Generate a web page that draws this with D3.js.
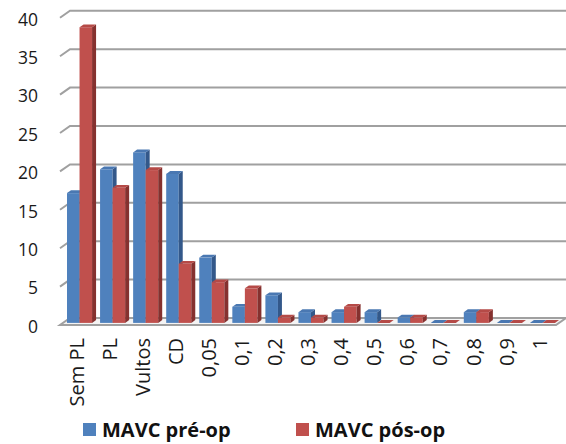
<!DOCTYPE html>
<html>
<head>
<meta charset="utf-8">
<script src="https://cdn.jsdelivr.net/npm/d3@7"></script>
<style>
  html, body { margin: 0; padding: 0; background: #fff; }
  svg { display: block; }
</style>
</head>
<body>
<svg id="chart" width="566" height="444"></svg>
<script>
// Categories and the two series (percent of eyes)
const categories = ["Sem PL", "PL", "Vultos", "CD", "0,05", "0,1", "0,2", "0,3", "0,4", "0,5", "0,6", "0,7", "0,8", "0,9", "1"];
const preOp  = [16.9, 20.0, 22.2, 19.4, 8.5, 2.1, 3.6, 1.4, 1.4, 1.4, 0.7, 0, 1.4, 0, 0];
const postOp = [38.5, 17.6, 19.9, 7.7, 5.3, 4.5, 0.7, 0.7, 2.1, 0, 0.7, 0, 1.4, 0, 0];
const seriesNames = ["MAVC pré-op", "MAVC pós-op"];
const yTicks = [0, 5, 10, 15, 20, 25, 30, 35, 40];

const svg = d3.select("#chart");

// Oblique 3D frame: floor front edge, and the depth direction of the box
const floorY = 325, left = 60, right = 556;
const depth = { dx: 10, dy: -7 };
const font = "'Open Sans', 'DejaVu Sans', sans-serif";

const x = d3.scaleBand().domain(categories).range([left, right]);
const inner = d3.scaleBand().domain([0, 1]).range([4, x.bandwidth() - 4]);
const y = d3.scaleLinear().domain([0, 40]).range([0, 307.2]);

const colors = [
  { front: "#4f81bd", top: "#4a78b2", side: "#33588a" },
  { front: "#c0504d", top: "#b54a47", side: "#85312f" }
];

// Back wall gridlines with their short diagonal on the side wall
const gridY = v => floorY + depth.dy - y(v);
svg.append("g").selectAll("polyline")
  .data(yTicks.filter(v => v > 0))
  .join("polyline")
  .attr("points", v => `${left},${gridY(v) - depth.dy} ${left + depth.dx},${gridY(v)} 566,${gridY(v)}`)
  .attr("fill", "none")
  .attr("stroke", "#a0a0a0")
  .attr("stroke-width", 2);

// Floor slab
svg.append("polygon")
  .attr("points", `${left},${floorY} ${right},${floorY} ${right + depth.dx},${floorY + depth.dy} ${left + depth.dx},${floorY + depth.dy}`)
  .attr("fill", "#f4f4f4")
  .attr("stroke", "#a0a0a0")
  .attr("stroke-width", 2);

// Y axis labels
svg.append("g").selectAll("text")
  .data(yTicks)
  .join("text")
  .attr("x", 38)
  .attr("y", v => floorY + 1.5 - y(v))
  .attr("dy", "0.36em")
  .attr("text-anchor", "end")
  .attr("font-family", font)
  .attr("font-size", 17.5)
  .attr("fill", "#1a1a1a")
  .text(v => v);

// Columns: front face, top face, right side face
const barDepth0 = 0.3, barDepth1 = 0.7;
const bars = [];
categories.forEach((c, i) => {
  [preOp[i], postOp[i]].forEach((v, s) => bars.push({ c, s, v }));
});

const gBars = svg.append("g");
bars.forEach(b => {
  const x0 = x(b.c) + inner(b.s) + depth.dx * barDepth0;
  const w = inner.bandwidth();
  const yb = floorY + depth.dy * barDepth0;
  const yt = yb - y(b.v);
  const ddx = depth.dx * (barDepth1 - barDepth0);
  const ddy = depth.dy * (barDepth1 - barDepth0);
  const col = colors[b.s];
  if (b.v > 0) {
    gBars.append("rect")
      .attr("x", x0).attr("y", yt)
      .attr("width", w).attr("height", yb - yt)
      .attr("fill", col.front);
    gBars.append("polygon")
      .attr("points", `${x0 + w},${yt} ${x0 + w + ddx},${yt + ddy} ${x0 + w + ddx},${yb + ddy} ${x0 + w},${yb}`)
      .attr("fill", col.side);
  }
  gBars.append("polygon")
    .attr("points", `${x0},${yt} ${x0 + w},${yt} ${x0 + w + ddx},${yt + ddy} ${x0 + ddx},${yt + ddy}`)
    .attr("fill", col.top);
});

// Category labels, rotated
svg.append("g").selectAll("text")
  .data(categories)
  .join("text")
  .attr("transform", c => `translate(${x(c) + x.bandwidth() / 2},338) rotate(-90)`)
  .attr("dy", "0.36em")
  .attr("text-anchor", "end")
  .attr("font-family", font)
  .attr("font-size", 20)
  .attr("fill", "#1a1a1a")
  .text(c => c);

// Legend
const legendX = [83, 296];
const legend = svg.append("g").selectAll("g")
  .data(seriesNames)
  .join("g")
  .attr("transform", (d, i) => `translate(${legendX[i]},423)`);
legend.append("rect")
  .attr("width", 13).attr("height", 13)
  .attr("fill", (d, i) => colors[i].front);
legend.append("text")
  .attr("x", 19).attr("y", 14)
  .attr("font-family", font)
  .attr("font-size", 20)
  .attr("font-weight", "bold")
  .attr("fill", "#111")
  .text(d => d);
</script>
</body>
</html>
